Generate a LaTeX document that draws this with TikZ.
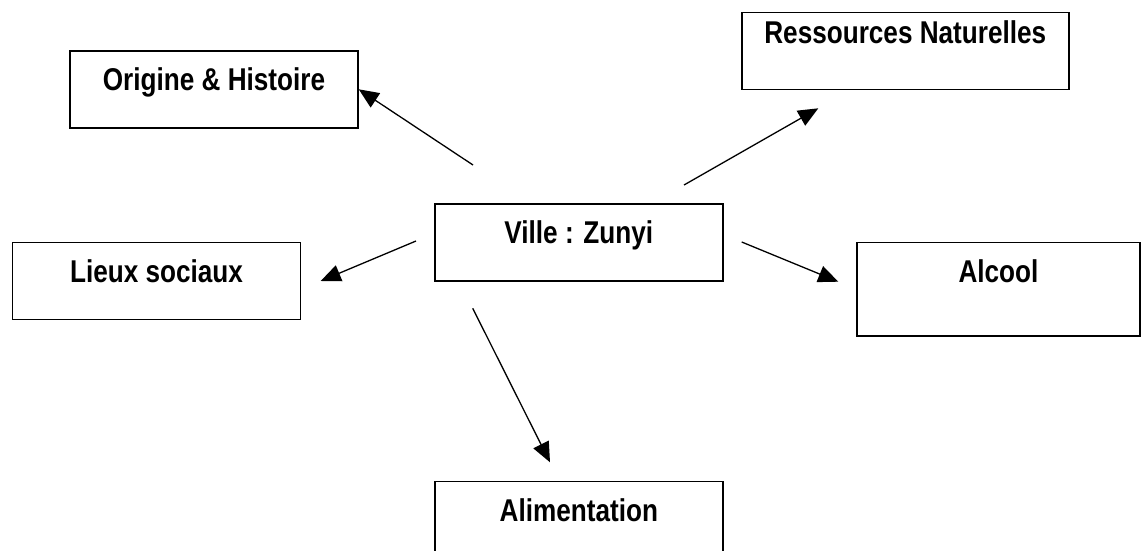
\documentclass[tikz,border=0pt]{standalone}
\usepackage{fontspec}
\setmainfont{Liberation Sans}[FakeStretch=0.83]
\usetikzlibrary{arrows.meta}
\newcommand\boxwidth{288pt}
\newcommand\boxheight{77pt}

\begin{document}
\begin{tikzpicture}[x = 1pt, y = 1pt, yscale = -1, line width = 1.3pt,
	case/.style = {draw, line width = 1.5pt, minimum width = \boxwidth, minimum height = \boxheight,
		inner sep = 0pt, text height = 22pt, text depth = #1,
		font = \fontsize{31.5}{36}\selectfont\bfseries},
	case/.default = 19pt,
	fleche/.style = {-{Triangle[length = 20pt, width = 17pt]}}]
	\useasboundingbox (0, 0) rectangle (1141, 551);

	% Cases:
	\node [case] (origine) at (214, 89.3) {Origine \& Histoire};
	\node [case = 37.6pt, minimum width = 327pt] (ressources) at (905.3, 51.1) {Ressources Naturelles};
	\node [case] (ville) at (578.8, 242.3) {Ville : Zunyi};
	\node [case] (lieux) at (156.5, 281) {Lieux sociaux};
	\node [case = 35.4pt, minimum width = 283pt, minimum height = 93.3pt] (alcool) at (998.5, 289.3) {Alcool};
	\node [case] (alimentation) at (578.8, 520.2) {Alimentation};

	% Fleches:
	\coordinate (o1) at (473, 165);
	\coordinate (r1) at (684, 185);
	\coordinate (r2) at (818.3, 108.3);
	\coordinate (l1) at (416, 241);
	\coordinate (l2) at (320.7, 281);
	\coordinate (a1) at (741.7, 242);
	\coordinate (a2) at (838.3, 281.7);
	\coordinate (m1) at (472.7, 308.3);
	\coordinate (m2) at (550, 462.3);
	\foreach \von/\nach in {o1/origine.east, r1/r2, l1/l2, a1/a2, m1/m2} {
		\draw [fleche] (\von) -- (\nach);
	}
\end{tikzpicture}
\end{document}
